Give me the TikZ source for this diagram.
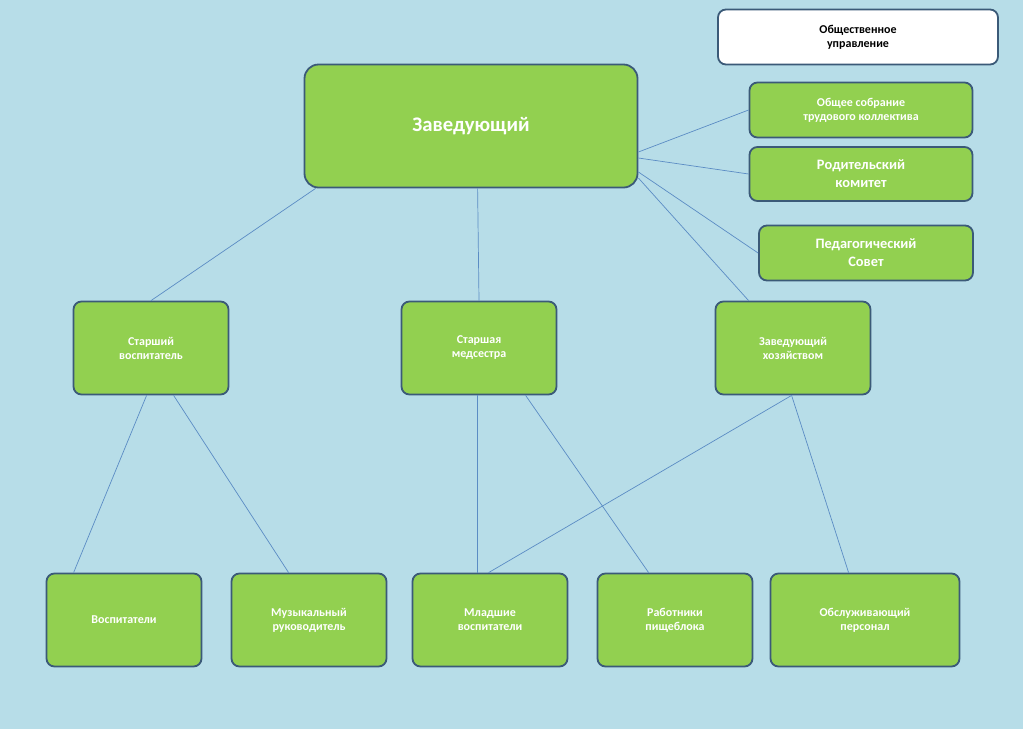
\documentclass[tikz,border=0pt]{standalone}
\usepackage{fontspec}
\setmainfont{Carlito}
\usetikzlibrary{calc}
\definecolor{bgblue}{HTML}{B7DDE8}
\definecolor{boxgreen}{HTML}{92D050}
\definecolor{boxline}{HTML}{3B5A78}
\definecolor{linkblue}{HTML}{5B8CC4}
\tikzset{
    unit/.style = {draw=boxline, line width=1.8pt, fill=boxgreen, rounded corners=8pt,
        align=center, text=white, font=\bfseries\large, inner sep=2pt},
    wbox/.style = {unit, fill=white, text=black},
    link/.style = {draw=linkblue, line width=0.7pt}
}
\begin{document}
\begin{tikzpicture}[x=1pt,y=-1pt]
    \fill[bgblue] (0,0) rectangle (1023,729);
    \useasboundingbox (0,0) rectangle (1023,729);

    % top
    \node[wbox, minimum width=280pt, minimum height=55pt] (pub) at (858,37) {Общественное\\управление};
    \node[unit, minimum width=333pt, minimum height=123pt, rounded corners=14pt, font=\bfseries\huge] (head) at (471,126) {Заведующий};
    \node[unit, minimum width=223pt, minimum height=55pt] (meet) at (861,110) {Общее собрание\\трудового коллектива};
    \node[unit, minimum width=223pt, minimum height=54pt, font=\bfseries\Large] (par) at (861,174) {Родительский\\комитет};
    \node[unit, minimum width=214pt, minimum height=55pt, font=\bfseries\Large] (ped) at (866,253) {Педагогический\\Совет};

    % middle
    \node[unit, minimum width=155pt, minimum height=93pt] (sv) at (151,348) {Старший\\воспитатель};
    \node[unit, minimum width=155pt, minimum height=93pt] (ms) at (479,348) {Старшая\\медсестра};
    \node[unit, minimum width=155pt, minimum height=93pt] (zh) at (793,348) {Заведующий\\хозяйством};

    % bottom
    \node[unit, minimum width=155pt, minimum height=93pt] (vos) at (124,620) {Воспитатели};
    \node[unit, minimum width=155pt, minimum height=93pt] (mus) at (309,620) {Музыкальный\\руководитель};
    \node[unit, minimum width=155pt, minimum height=93pt] (mlv) at (490,620) {Младшие\\воспитатели};
    \node[unit, minimum width=155pt, minimum height=93pt] (rab) at (675,620) {Работники\\пищеблока};
    \node[unit, minimum width=189pt, minimum height=93pt] (obs) at (865,620) {Обслуживающий\\персонал};

    \begin{scope}[on background layer/.style={}]
    \draw[link] ($(head.south west)+(12,0)$) -- (sv.north);
    \draw[link] ($(head.south west)+(174,0)$) -- (ms.north);
    \draw[link] ($(head.east)+(0,52)$) -- ($(zh.north west)+(34,0)$);
    \draw[link] ($(head.east)+(0,26)$) -- (meet.west);
    \draw[link] ($(head.east)+(0,32)$) -- (par.west);
    \draw[link] ($(head.east)+(0,46)$) -- (ped.west);
    \draw[link] ($(sv.south west)+(74,0)$) -- ($(vos.north west)+(28,0)$);
    \draw[link] ($(sv.south west)+(101,0)$) -- ($(mus.north west)+(58,0)$);
    \draw[link] ($(ms.south west)+(77,0)$) -- ($(mlv.north west)+(66,0)$);
    \draw[link] ($(ms.south west)+(125,0)$) -- ($(rab.north west)+(52,0)$);
    \draw[link] ($(zh.south west)+(77,0)$) -- ($(mlv.north west)+(77,0)$);
    \draw[link] ($(zh.south west)+(77,0)$) -- ($(obs.north west)+(79,0)$);
    \end{scope}
\end{tikzpicture}
\end{document}
